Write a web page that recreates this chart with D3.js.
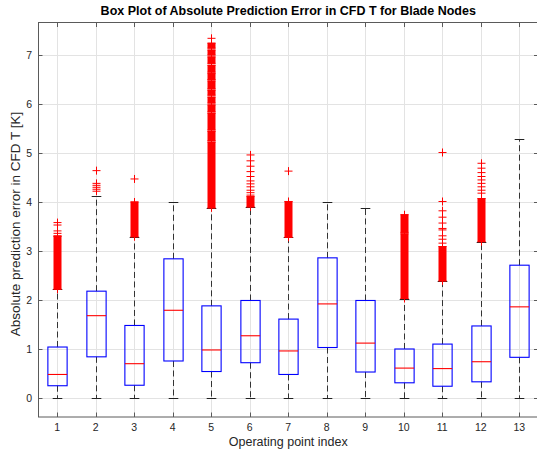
<!DOCTYPE html>
<html>
<head>
<meta charset="utf-8">
<script src="https://cdn.jsdelivr.net/npm/d3@7"></script>
<style>
  html, body { margin: 0; padding: 0; background: #fff; }
  svg { display: block; }
  text { font-family: "Liberation Sans", Arial, Helvetica, sans-serif; }
</style>
</head>
<body>
<svg id="chart" width="537" height="455"></svg>
<script>
// ---- Data ----
const categories = ["1","2","3","4","5","6","7","8","9","10","11","12","13"];
const whiskerLow  = [0, 0, 0, 0, 0, 0, 0, 0, 0, 0, 0, 0, 0];
const q1          = [0.25, 0.84, 0.26, 0.755, 0.54, 0.72, 0.48, 1.03, 0.53, 0.31, 0.24, 0.33, 0.83];
const medians     = [0.48, 1.68, 0.70, 1.79, 0.98, 1.27, 0.96, 1.92, 1.12, 0.61, 0.60, 0.74, 1.86];
const q3          = [1.04, 2.18, 1.48, 2.84, 1.88, 1.99, 1.61, 2.86, 1.99, 1.00, 1.10, 1.47, 2.71];
const whiskerHigh = [2.22, 4.12, 3.29, 3.99, 3.88, 3.90, 3.28, 3.99, 3.88, 2.03, 2.39, 3.19, 5.28];
// dense runs of outliers (drawn as solid runs of "+" markers): [low, high]
const outlierRuns = [
  [[2.22, 3.30]],
  [],
  [[3.29, 4.00]],
  [],
  [[3.88, 5.22], [5.25, 5.44], [5.47, 5.81], [5.84, 5.98], [6.02, 6.14], [6.18, 6.28],
   [6.31, 6.47], [6.50, 6.62], [6.65, 6.79], [6.83, 6.96], [7.00, 7.10], [7.14, 7.24]],
  [[3.90, 4.11]],
  [[3.28, 4.01]],
  [],
  [],
  [[2.03, 3.35], [3.38, 3.74]],
  [[2.39, 3.09]],
  [[3.19, 4.07]],
  []
];
// individual outliers
const outlierPoints = [
  [3.31, 3.36, 3.41, 3.53, 3.58],
  [4.22, 4.26, 4.30, 4.34, 4.38, 4.64],
  [4.47],
  [],
  [7.34],
  [4.14, 4.19, 4.24, 4.31, 4.37, 4.43, 4.52, 4.62, 4.73, 4.84, 4.96],
  [4.63],
  [],
  [],
  [],
  [3.16, 3.24, 3.31, 3.43, 3.46, 3.57, 3.69, 3.82, 4.01, 5.01],
  [4.18, 4.24, 4.31, 4.38, 4.45, 4.52, 4.60, 4.69, 4.79],
  []
];
const yTicks = [0, 1, 2, 3, 4, 5, 6, 7];
const xTickValues = [1,2,3,4,5,6,7,8,9,10,11,12,13];
const titleText = "Box Plot of Absolute Prediction Error in CFD T for Blade Nodes";
const xLabelText = "Operating point index";
const yLabelText = "Absolute prediction error in CFD T [K]";

// ---- Layout ----
const pLeft = 38, pRight = 538.5, pTop = 22.5, pBottom = 417;
const svg = d3.select("#chart");
const x = d3.scaleLinear().domain([0.5, 13.5]).range([pLeft, pRight]);
const y = d3.scaleLinear().domain([-0.388, 7.663]).range([pBottom, pTop]);

const boxW = x(1.25) - x(1);        // half-width 0.25 units
const capW = x(1.125) - x(1);       // cap half-width
const mk = 4;                        // "+" marker half-size

const textColor = "#262626";
const gridColor = "#e3e3e3";
const axisColor = "#5a5a5a";

// grid
const g = svg.append("g");
g.selectAll("line.gx").data(xTickValues).enter().append("line")
  .attr("x1", d => Math.round(x(d)) + 0.5).attr("x2", d => Math.round(x(d)) + 0.5)
  .attr("y1", pTop).attr("y2", pBottom)
  .attr("stroke", gridColor).attr("stroke-width", 1);
g.selectAll("line.gy").data(yTicks).enter().append("line")
  .attr("y1", d => Math.round(y(d)) + 0.5).attr("y2", d => Math.round(y(d)) + 0.5)
  .attr("x1", pLeft).attr("x2", pRight)
  .attr("stroke", gridColor).attr("stroke-width", 1);

// boxes
const idx = d3.range(categories.length);
const bg = svg.append("g");
idx.forEach(i => {
  const cx = Math.round(x(i + 1)) + 0.5;
  // whiskers
  bg.append("line").attr("x1", cx).attr("x2", cx)
    .attr("y1", y(q3[i])).attr("y2", y(whiskerHigh[i]))
    .attr("stroke", "#333").attr("stroke-width", 1).attr("stroke-dasharray", "6,3.5");
  bg.append("line").attr("x1", cx).attr("x2", cx)
    .attr("y1", y(q1[i])).attr("y2", y(whiskerLow[i]))
    .attr("stroke", "#333").attr("stroke-width", 1).attr("stroke-dasharray", "6,3.5");
  // caps
  [whiskerHigh[i], whiskerLow[i]].forEach(v => {
    bg.append("line").attr("x1", cx - capW).attr("x2", cx + capW)
      .attr("y1", Math.round(y(v)) + 0.5).attr("y2", Math.round(y(v)) + 0.5)
      .attr("stroke", "#222").attr("stroke-width", 1);
  });
  // box
  bg.append("rect")
    .attr("x", cx - boxW).attr("width", 2 * boxW)
    .attr("y", y(q3[i])).attr("height", y(q1[i]) - y(q3[i]))
    .attr("fill", "none").attr("stroke", "#0000ff").attr("stroke-width", 1.1);
  // median
  bg.append("line").attr("x1", cx - boxW).attr("x2", cx + boxW)
    .attr("y1", y(medians[i])).attr("y2", y(medians[i]))
    .attr("stroke", "#ff0000").attr("stroke-width", 1.1);
  // dense outlier runs
  outlierRuns[i].forEach(r => {
    bg.append("rect")
      .attr("x", cx - mk).attr("width", 2 * mk)
      .attr("y", y(r[1]) - 0.5).attr("height", y(r[0]) - y(r[1]) + 1)
      .attr("fill", "#ff0000");
    [r[0], r[1]].forEach(v => {
      bg.append("path")
        .attr("d", `M${cx - mk},${y(v)}H${cx + mk}M${cx},${y(v) - mk}V${y(v) + mk}`)
        .attr("stroke", "#ff0000").attr("stroke-width", 1).attr("fill", "none");
    });
  });
  // individual outliers
  outlierPoints[i].forEach(v => {
    bg.append("path")
      .attr("d", `M${cx - mk},${y(v)}H${cx + mk}M${cx},${y(v) - mk}V${y(v) + mk}`)
      .attr("stroke", "#ff0000").attr("stroke-width", 1).attr("fill", "none");
  });
});

// frame
svg.append("rect").attr("x", pLeft + 0.5).attr("y", pTop).attr("width", pRight - pLeft)
  .attr("height", pBottom - pTop).attr("fill", "none").attr("stroke", axisColor).attr("stroke-width", 1);

// ticks (inward)
const tl = 4.5;
const tg = svg.append("g").attr("stroke", axisColor).attr("stroke-width", 1);
xTickValues.forEach(d => {
  const px = Math.round(x(d)) + 0.5;
  tg.append("line").attr("x1", px).attr("x2", px).attr("y1", pBottom).attr("y2", pBottom - tl);
  tg.append("line").attr("x1", px).attr("x2", px).attr("y1", pTop).attr("y2", pTop + tl);
});
yTicks.forEach(d => {
  const py = Math.round(y(d)) + 0.5;
  tg.append("line").attr("x1", pLeft).attr("x2", pLeft + tl).attr("y1", py).attr("y2", py);
  tg.append("line").attr("x1", pRight).attr("x2", pRight - tl).attr("y1", py).attr("y2", py);
});

// tick labels
svg.append("g").selectAll("text").data(xTickValues).enter().append("text")
  .attr("x", d => x(d)).attr("y", 431)
  .attr("text-anchor", "middle").attr("font-size", "10.5px").attr("fill", textColor)
  .text((d, i) => categories[i]);
svg.append("g").selectAll("text").data(yTicks).enter().append("text")
  .attr("x", 32).attr("y", d => y(d) + 3.8)
  .attr("text-anchor", "end").attr("font-size", "10.5px").attr("fill", textColor)
  .text(d => d);

// labels
svg.append("text").attr("x", (pLeft + pRight) / 2).attr("y", 446)
  .attr("text-anchor", "middle").attr("font-size", "12.5px").attr("fill", textColor)
  .text(xLabelText);
svg.append("text").attr("transform", `translate(20,224) rotate(-90)`)
  .attr("text-anchor", "middle").attr("font-size", "13.5px").attr("fill", textColor)
  .text(yLabelText);
svg.append("text").attr("x", (pLeft + pRight) / 2).attr("y", 15)
  .attr("text-anchor", "middle").attr("font-size", "12.5px").attr("font-weight", "bold").attr("fill", "#000")
  .text(titleText);
</script>
</body>
</html>
